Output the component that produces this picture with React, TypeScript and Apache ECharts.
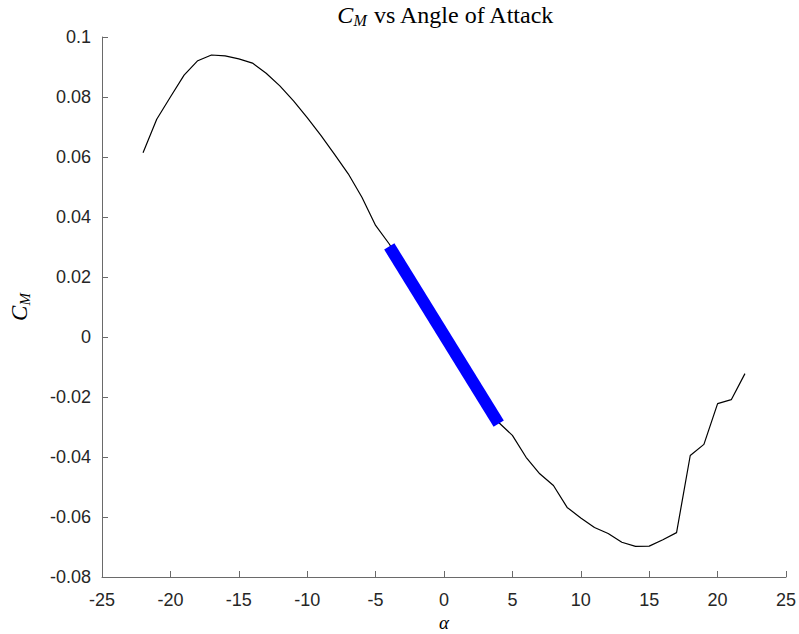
import React, { useEffect, useRef } from "react";
import * as echarts from "echarts";

// Pitching-moment coefficient sampled at each angle of attack (deg)
const alpha = [
  -22, -21, -20, -19, -18, -17, -16, -15, -14, -13, -12, -11, -10, -9, -8,
  -7, -6, -5, -4, -3, -2, -1, 0, 1, 2, 3, 4, 5, 6, 7, 8, 9, 10, 11, 12, 13,
  14, 15, 16, 17, 18, 19, 20, 21, 22,
];
const cm = [
  0.0614, 0.0726, 0.08, 0.0873, 0.0921, 0.094, 0.0937, 0.0927, 0.0913,
  0.0879, 0.0837, 0.0787, 0.0731, 0.0672, 0.0609, 0.0544, 0.0466, 0.0372,
  0.031, 0.0235, 0.016, 0.0085, 0.001, -0.0065, -0.014, -0.0215, -0.0285,
  -0.0328, -0.0401, -0.0456, -0.0495, -0.0568, -0.0603, -0.0635, -0.0655,
  -0.0684, -0.0698, -0.0697, -0.0676, -0.0652, -0.0395, -0.0358, -0.0222,
  -0.0209, -0.0122,
];

// Linear fit over the attached-flow range
const fitAlpha = [-4, 4];
const fitCm = [0.0302, -0.0289];

const TEXT = "#262626";
const AXIS = "#6a6a6a";
const SANS = "'Liberation Sans', Arial, Helvetica, sans-serif";
const SERIF = "'Liberation Serif', 'Times New Roman', serif";

const titleRich = {
  c: { fontFamily: SERIF, fontStyle: "italic", fontSize: 24, color: "#000" },
  m: {
    fontFamily: SERIF,
    fontStyle: "italic",
    fontSize: 16,
    color: "#000",
    padding: [10, 0, 0, 0],
  },
  t: { fontFamily: SERIF, fontSize: 24, color: "#000" },
};

const nameRich = {
  c: { fontFamily: SERIF, fontStyle: "italic", fontSize: 23, color: "#000" },
  m: {
    fontFamily: SERIF,
    fontStyle: "italic",
    fontSize: 15,
    color: "#000",
    padding: [10, 0, 0, 0],
  },
};

export default function App() {
  const ref = useRef<HTMLDivElement>(null);

  useEffect(() => {
    if (!ref.current) return;
    const chart = echarts.init(ref.current, null, { renderer: "svg" });

    const axisCommon = {
      type: "value" as const,
      axisLine: { show: true, onZero: false, lineStyle: { color: AXIS, width: 1 } },
      axisTick: { show: true, inside: true, length: 6, lineStyle: { color: AXIS, width: 1 } },
      splitLine: { show: false },
    };

    chart.setOption({
      animation: false,
      backgroundColor: "#ffffff",
      grid: {
        left: 102,
        right: 13,
        top: 37,
        bottom: 57,
        containLabel: false,
        outerBoundsMode: "none",
      },
      graphic: [
        {
          type: "text",
          x: 446,
          y: 15,
          style: {
            text: "{c|C}{m|M}{t| vs Angle of Attack}",
            rich: titleRich,
            textAlign: "center",
            textVerticalAlign: "middle",
          },
        },
        {
          // x-axis label, placed under the tick labels
          type: "text",
          x: 444,
          y: 622,
          style: {
            text: "α",
            fontFamily: SERIF,
            fontStyle: "italic",
            fontSize: 19,
            fill: "#000",
            textAlign: "center",
            textVerticalAlign: "middle",
          },
        },
      ],
      xAxis: {
        ...axisCommon,
        min: -25,
        max: 25,
        interval: 5,
        axisLabel: {
          color: TEXT,
          fontFamily: SANS,
          fontSize: 18,
          margin: 14,
          showMinLabel: true,
          showMaxLabel: true,
        },
      },
      yAxis: {
        ...axisCommon,
        min: -0.08,
        max: 0.1,
        interval: 0.02,
        axisLabel: {
          color: TEXT,
          fontFamily: SANS,
          fontSize: 18,
          margin: 11,
          showMinLabel: true,
          showMaxLabel: true,
          formatter: (v: number) => String(Math.round(v * 100) / 100),
        },
        name: "{c|C}{m|M}",
        nameLocation: "middle",
        nameRotate: 90,
        nameGap: 70,
        nameTextStyle: { rich: nameRich },
      },
      series: [
        {
          type: "line",
          data: alpha.map((a, i) => [a, cm[i]]),
          symbol: "none",
          lineStyle: { color: "#000", width: 1.2 },
          z: 2,
        },
        {
          type: "line",
          data: fitAlpha.map((a, i) => [a, fitCm[i]]),
          symbol: "none",
          lineStyle: { color: "#0000ff", width: 12, cap: "butt" },
          z: 3,
        },
      ],
    });

    return () => chart.dispose();
  }, []);

  return (
    <div
      ref={ref}
      style={{
        position: "fixed",
        left: 0,
        top: 0,
        width: 799,
        height: 634,
        background: "#fff",
      }}
    />
  );
}
